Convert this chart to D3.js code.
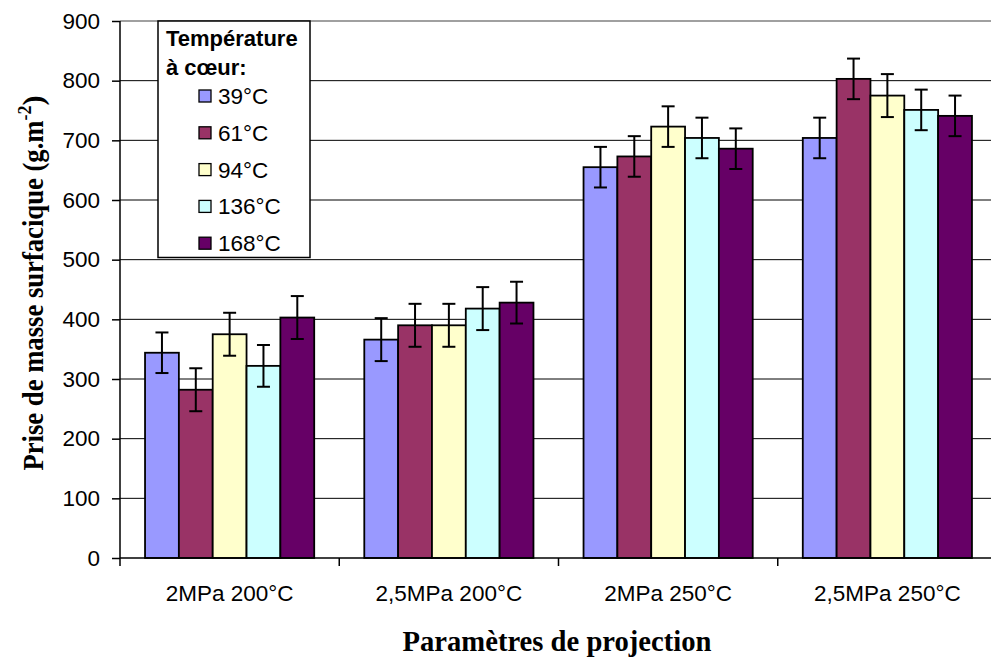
<!DOCTYPE html>
<html>
<head>
<meta charset="utf-8">
<script src="https://cdn.jsdelivr.net/npm/d3@7"></script>
<style>
  body { margin: 0; background: #fff; }
  svg { display: block; }
  .tick text { font-family: "Liberation Sans", Arial, sans-serif; font-size: 22.5px; fill: #000; }
</style>
</head>
<body>
<div id="chart"></div>
<script>
// data
const categories = ["2MPa 200°C", "2,5MPa 200°C", "2MPa 250°C", "2,5MPa 250°C"]
const seriesNames = ["39°C", "61°C", "94°C", "136°C", "168°C"]
const seriesColors = ["#9999ff", "#993366", "#ffffcc", "#ccffff", "#660066"]
const values39 = [344, 366, 655, 704]
const values61 = [282, 390, 673, 803]
const values94 = [375, 390, 723, 775]
const values136 = [322, 418, 704, 751]
const values168 = [403, 428, 686, 741]
const errors39 = [34, 36, 34, 34]
const errors61 = [36, 36, 34, 34]
const errors94 = [36, 36, 34, 36]
const errors136 = [35, 36, 34, 34]
const errors168 = [36, 35, 34, 34]
const yTicks = [0, 100, 200, 300, 400, 500, 600, 700, 800, 900]

const allValues = [values39, values61, values94, values136, values168]
const allErrors = [errors39, errors61, errors94, errors136, errors168]

// build rows: one record per bar
const rows = []
categories.forEach((c, ci) => {
    seriesNames.forEach((s, si) => {
        rows.push({ cat: c, key: s, value: allValues[si][ci], err: allErrors[si][ci], color: seriesColors[si] })
    })
})

const W = 991, H = 657
const margin = { top: 21, right: -6, bottom: 99, left: 120 }
const width = W - margin.left - margin.right
const height = H - margin.top - margin.bottom
const sans = "'Liberation Sans', Arial, sans-serif"
const serif = "'Liberation Serif', 'Times New Roman', serif"

const svg = d3.select("#chart").append("svg")
        .attr("width", W)
        .attr("height", H)
    .append("g")
        .attr("transform", `translate(${margin.left},${margin.top})`)

// scales
const x0 = d3.scaleBand().domain(categories).range([0, width]).padding(0)
const x1 = d3.scaleBand().domain(seriesNames).range([0, x0.bandwidth()])
    .paddingInner(0).paddingOuter(0.74)
const y = d3.scaleLinear().domain([0, 900]).range([height, 0])

// gridlines
svg.append("g").selectAll("line")
    .data(yTicks.filter(d => d > 0))
    .join("line")
        .attr("x1", 0).attr("x2", width)
        .attr("y1", d => y(d)).attr("y2", d => y(d))
        .attr("stroke", d => d === 900 ? "#808080" : "#000")
        .attr("stroke-width", d => d === 900 ? 1.5 : 1)

// bars
const groups = svg.append("g").selectAll("g")
    .data(categories)
    .join("g")
        .attr("transform", d => `translate(${x0(d)},0)`)

groups.selectAll("rect")
    .data(c => rows.filter(r => r.cat === c))
    .join("rect")
        .attr("x", d => x1(d.key))
        .attr("y", d => y(d.value))
        .attr("width", x1.bandwidth())
        .attr("height", d => height - y(d.value))
        .attr("fill", d => d.color)
        .attr("stroke", "#000")
        .attr("stroke-width", 1.8)

// error bars
const eb = groups.selectAll("g.err")
    .data(c => rows.filter(r => r.cat === c))
    .join("g")
        .attr("class", "err")
        .attr("transform", d => `translate(${x1(d.key) + x1.bandwidth() / 2},0)`)
        .attr("stroke", "#000")
        .attr("stroke-width", 2)

eb.append("line")
    .attr("y1", d => y(d.value + d.err)).attr("y2", d => y(d.value - d.err))
eb.append("line")
    .attr("x1", -6.5).attr("x2", 6.5)
    .attr("y1", d => y(d.value + d.err)).attr("y2", d => y(d.value + d.err))
eb.append("line")
    .attr("x1", -6.5).attr("x2", 6.5)
    .attr("y1", d => y(d.value - d.err)).attr("y2", d => y(d.value - d.err))

// y axis
const yAx = d3.axisLeft(y).tickValues(yTicks).tickSize(8).tickPadding(12)
const yGroup = svg.append("g").attr("class", "y-axis").call(yAx)
yGroup.select(".domain").attr("stroke-width", 1.5).attr("d", `M0,${height}V0`)
yGroup.selectAll(".tick line").attr("stroke-width", 1.5)

// x axis: labels from band scale, ticks at category boundaries
const xAx = d3.axisBottom(x0).tickSize(0).tickPadding(27)
const xGroup = svg.append("g").attr("class", "x-axis")
    .attr("transform", `translate(0,${height})`)
    .call(xAx)
xGroup.select(".domain").attr("stroke-width", 1.5).attr("d", `M0,0H${width}`)
xGroup.append("g").selectAll("line")
    .data(categories)
    .join("line")
        .attr("x1", d => x0(d)).attr("x2", d => x0(d))
        .attr("y1", 0).attr("y2", 8)
        .attr("stroke", "#000").attr("stroke-width", 1.5)

// axis titles
svg.append("text")
    .attr("x", width / 2 - 1.5)
    .attr("y", 651 - margin.top)
    .attr("text-anchor", "middle")
    .style("font-family", serif)
    .style("font-weight", "bold")
    .style("font-size", "30px")
    .attr("textLength", 309)
    .attr("lengthAdjust", "spacingAndGlyphs")
    .text("Paramètres de projection")

const yTitle = svg.append("text")
    .attr("transform", `translate(${43 - margin.left},${283 - margin.top}) rotate(-90)`)
    .attr("text-anchor", "middle")
    .style("font-family", serif)
    .style("font-weight", "bold")
    .style("font-size", "30px")
yTitle.append("tspan").attr("textLength", 350).attr("lengthAdjust", "spacingAndGlyphs")
    .text("Prise de masse surfacique (g.m")
yTitle.append("tspan").attr("dy", -12).style("font-size", "18px").text("-2")
yTitle.append("tspan").attr("dy", 12).text(")")

// legend
const lg = svg.append("g").attr("transform", `translate(${158 - margin.left},0)`)
lg.append("rect")
    .attr("width", 152).attr("height", 236.5)
    .attr("fill", "#fff").attr("stroke", "#000").attr("stroke-width", 1.5)
lg.append("text")
    .attr("x", 8).attr("y", 25)
    .style("font-family", sans)
    .style("font-weight", "bold").style("font-size", "22px")
    .text("Température")
lg.append("text")
    .attr("x", 8).attr("y", 54)
    .style("font-family", sans)
    .style("font-weight", "bold").style("font-size", "22px")
    .text("à cœur:")

const items = lg.selectAll("g.item")
    .data(seriesNames)
    .join("g")
        .attr("class", "item")
        .attr("transform", (d, i) => `translate(41,${75 + i * 36.8})`)
items.append("rect")
    .attr("x", 0).attr("y", -6).attr("width", 12).attr("height", 12)
    .attr("fill", (d, i) => seriesColors[i])
    .attr("stroke", "#000").attr("stroke-width", 1.3)
items.append("text")
    .attr("x", 19).attr("y", 8)
    .style("font-family", sans)
    .style("font-size", "22.5px")
    .text(d => d)
</script>
</body>
</html>
